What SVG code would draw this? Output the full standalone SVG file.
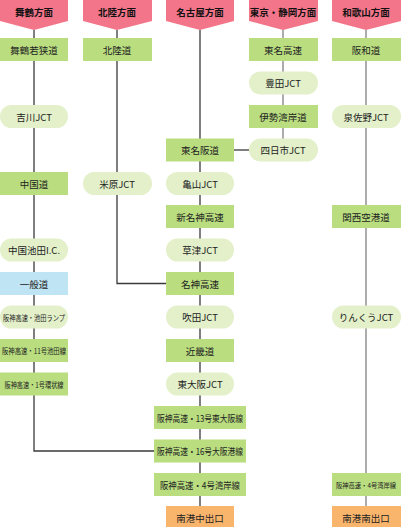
<svg xmlns="http://www.w3.org/2000/svg" width="401" height="527" viewBox="0 0 401 527">
<style>
text{font-family:"Noto Sans CJK JP","Noto Sans",sans-serif;font-size:9.5px;fill:#222;text-anchor:middle;dominant-baseline:central}
.hd{fill:#f27589}
.ht{font-weight:bold;fill:#111}
.sm{font-size:7.5px}
.xs{font-size:6.6px}
.r{fill:#b9dd7f}
.p{fill:#e3f0c9}
.b{fill:#bfe4f3}
.o{fill:#f9b56c}
.ln{stroke:#3a3a3a;stroke-width:1.3;fill:none}
.lg{stroke:#808080;stroke-width:1.3;fill:none}
</style>
<rect width="401" height="527" fill="#fff"/>
<g id="connectors">
<polyline class="ln" points="34,30 34,451 154,451"/>
<polyline class="ln" points="117,30 117,283.5 166,283.5"/>
<line class="ln" x1="200" y1="30" x2="200" y2="506"/>
<polyline class="lg" points="283,30 283,150"/>
<line class="ln" x1="234" y1="150" x2="249" y2="150"/>
<line class="lg" x1="366" y1="30" x2="366" y2="506"/>
</g>
<g id="h1"><polygon class="hd" points="0,0 68,0 68,21 34,30 0,21"/><text class="ht" x="34" y="12">舞鶴方面</text></g>
<g id="h2"><polygon class="hd" points="83,0 152,0 152,21 117,30 83,21"/><text class="ht" x="117" y="12">北陸方面</text></g>
<g id="h3"><polygon class="hd" points="166,0 234,0 234,21 200,30 166,21"/><text class="ht" x="200" y="12">名古屋方面</text></g>
<g id="h4"><polygon class="hd" points="249,0 318,0 318,21 283,30 249,21"/><text class="ht" x="283" y="12">東京・静岡方面</text></g>
<g id="h5"><polygon class="hd" points="332,0 401,0 401,21 366,30 332,21"/><text class="ht" x="366" y="12">和歌山方面</text></g>

<g id="n1a"><rect class="r" x="0" y="38" width="68" height="23"/><text x="34" y="49.5">舞鶴若狭道</text></g>
<g id="n1b"><rect class="p" x="0" y="105" width="68" height="23" rx="11.5"/><text x="34" y="116.5">吉川JCT</text></g>
<g id="n1c"><rect class="r" x="0" y="172" width="68" height="23"/><text x="34" y="183.5">中国道</text></g>
<g id="n1d"><rect class="p" x="0" y="238.5" width="68" height="23" rx="11.5"/><text x="34" y="250">中国池田I.C.</text></g>
<g id="n1e"><rect class="b" x="0" y="272" width="68" height="23"/><text x="34" y="283.5">一般道</text></g>
<g id="n1f"><rect class="p" x="0" y="305.5" width="68" height="23" rx="11.5"/><text class="sm" x="34" y="317" textLength="62" lengthAdjust="spacingAndGlyphs">阪神高速・池田ランプ</text></g>
<g id="n1g"><rect class="r" x="0" y="339" width="68" height="23"/><text class="sm" x="34" y="350.5" textLength="64" lengthAdjust="spacingAndGlyphs">阪神高速・11号池田線</text></g>
<g id="n1h"><rect class="r" x="0" y="372.5" width="68" height="23"/><text class="sm" x="34" y="384" textLength="59" lengthAdjust="spacingAndGlyphs">阪神高速・1号環状線</text></g>

<g id="n2a"><rect class="r" x="83" y="38" width="69" height="23"/><text x="117" y="49.5">北陸道</text></g>
<g id="n2b"><rect class="p" x="83" y="172" width="69" height="23" rx="11.5"/><text x="117" y="183.5">米原JCT</text></g>

<g id="n3a"><rect class="r" x="166" y="138.5" width="68" height="23"/><text x="200" y="150">東名阪道</text></g>
<g id="n3b"><rect class="p" x="166" y="172" width="68" height="23" rx="11.5"/><text x="200" y="183.5">亀山JCT</text></g>
<g id="n3c"><rect class="r" x="166" y="205" width="68" height="23"/><text x="200" y="216.5">新名神高速</text></g>
<g id="n3d"><rect class="p" x="166" y="238.5" width="68" height="23" rx="11.5"/><text x="200" y="250">草津JCT</text></g>
<g id="n3e"><rect class="r" x="166" y="272" width="68" height="23"/><text x="200" y="283.5">名神高速</text></g>
<g id="n3f"><rect class="p" x="166" y="305.5" width="68" height="23" rx="11.5"/><text x="200" y="317">吹田JCT</text></g>
<g id="n3g"><rect class="r" x="166" y="339" width="68" height="23"/><text x="200" y="350.5">近畿道</text></g>
<g id="n3h"><rect class="p" x="166" y="372.5" width="68" height="23" rx="11.5"/><text x="200" y="384">東大阪JCT</text></g>
<g id="n3i"><rect class="r" x="154" y="406" width="92" height="23"/><text x="200" y="417.5" textLength="86" lengthAdjust="spacingAndGlyphs">阪神高速・13号東大阪線</text></g>
<g id="n3j"><rect class="r" x="154" y="439.5" width="92" height="23"/><text x="200" y="451" textLength="86" lengthAdjust="spacingAndGlyphs">阪神高速・16号大阪港線</text></g>
<g id="n3k"><rect class="r" x="154" y="473" width="92" height="23"/><text x="200" y="484.5" textLength="80" lengthAdjust="spacingAndGlyphs">阪神高速・4号湾岸線</text></g>
<g id="n3l"><rect class="o" x="166" y="506" width="68" height="23"/><text x="200" y="517.5">南港中出口</text></g>

<g id="n4a"><rect class="r" x="249" y="38" width="69" height="23"/><text x="283" y="49.5">東名高速</text></g>
<g id="n4b"><rect class="p" x="249" y="71.5" width="69" height="23" rx="11.5"/><text x="283" y="83">豊田JCT</text></g>
<g id="n4c"><rect class="r" x="249" y="105" width="69" height="23"/><text x="283" y="116.5">伊勢湾岸道</text></g>
<g id="n4d"><rect class="p" x="249" y="138.5" width="69" height="23" rx="11.5"/><text x="283" y="150">四日市JCT</text></g>

<g id="n5a"><rect class="r" x="332" y="38" width="69" height="23"/><text x="366" y="49.5">阪和道</text></g>
<g id="n5b"><rect class="p" x="332" y="105" width="69" height="23" rx="11.5"/><text x="366" y="116.5">泉佐野JCT</text></g>
<g id="n5c"><rect class="r" x="332" y="205" width="69" height="23"/><text x="366" y="216.5">関西空港道</text></g>
<g id="n5d"><rect class="p" x="332" y="305.5" width="69" height="23" rx="11.5"/><text x="366" y="317">りんくうJCT</text></g>
<g id="n5e"><rect class="r" x="332" y="473" width="69" height="23"/><text class="xs" x="366" y="484.5" textLength="60" lengthAdjust="spacingAndGlyphs">阪神高速・4号湾岸線</text></g>
<g id="n5f"><rect class="o" x="332" y="506" width="69" height="23"/><text x="366" y="517.5">南港南出口</text></g>
</svg>
